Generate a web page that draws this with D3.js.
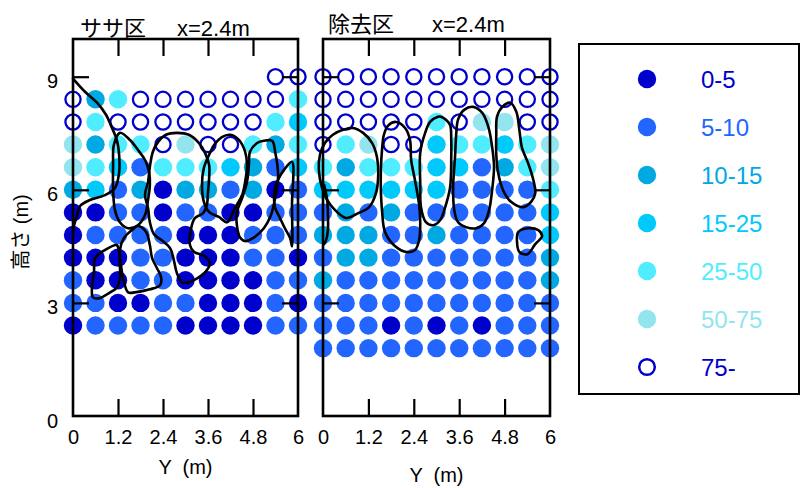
<!DOCTYPE html>
<html>
<head>
<meta charset="utf-8">
<script src="https://cdn.jsdelivr.net/npm/d3@7"></script>
<style>
  html, body { margin: 0; padding: 0; background: #fff; }
  svg { display: block; font-family: "Liberation Sans", Arial, "Noto Sans CJK JP", sans-serif; }
</style>
</head>
<body>
<svg id="chart" width="801" height="488"></svg>
<script>
// 相対照度のクラス (%) と色
const classLabels = ["0-5", "5-10", "10-15", "15-25", "25-50", "50-75", "75-"];
const classColors = ["#0000cc", "#2266ff", "#00a9e2", "#00c9fb", "#50ecff", "#92e5ee", "#0000cc"];
const OPEN = 6; // 75- は白抜き

// 測点の水平位置 Y (m)
const colPositions = [0, 0.6, 1.2, 1.8, 2.4, 3.0, 3.6, 4.2, 4.8, 5.4, 6.0];

// ササ区：高さ (m) ごとのクラス番号（null は測点なし）
const sasaHeights = [9.0, 8.4, 7.8, 7.2, 6.6, 6.0, 5.4, 4.8, 4.2, 3.6, 3.0, 2.4];
const sasaClasses = [
  [null, null, null, null, null, null, null, null, null, 6, 6],
  [6, 2, 4, 6, 6, 6, 6, 6, 6, 6, 4],
  [6, 4, 6, 6, 6, 6, 6, 6, 6, 4, 3],
  [5, 2, 4, 4, 6, 5, 6, 6, 4, 2, 4],
  [5, 4, 3, 1, 4, 4, 4, 3, 2, 1, 3],
  [2, 3, 1, 2, 0, 2, 2, 1, 2, 0, 1],
  [0, 0, 1, 1, 0, 1, 1, 0, 0, 1, 1],
  [0, 1, 1, 1, 1, 0, 0, 0, 1, 1, 1],
  [0, 0, 0, 1, 1, 0, 0, 0, 1, 1, 0],
  [1, 0, 0, 1, 1, 0, 0, 0, 0, 1, 1],
  [1, 1, 0, 0, 1, 1, 0, 0, 0, 1, 0],
  [0, 1, 1, 1, 1, 0, 0, 0, 0, 1, 1]
];

// 除去区
const jokyoHeights = [9.0, 8.4, 7.8, 7.2, 6.6, 6.0, 5.4, 4.8, 4.2, 3.6, 3.0, 2.4, 1.8];
const jokyoClasses = [
  [6, 6, 6, 6, 6, 6, 6, 6, 6, 6, 6],
  [6, 6, 6, 6, 6, 6, 6, 6, 6, 6, 6],
  [6, 6, 6, 6, 6, 4, 6, 5, 5, 6, 6],
  [6, 4, 5, 6, 6, 3, 4, 4, 3, 4, 5],
  [4, 2, 4, 4, 4, 3, 3, 1, 2, 4, 5],
  [3, 3, 3, 3, 3, 3, 1, 1, 1, 1, 4],
  [1, 2, 1, 2, 1, 1, 1, 1, 1, 1, 3],
  [2, 2, 2, 1, 1, 2, 1, 1, 1, 1, 3],
  [1, 2, 2, 1, 1, 1, 1, 1, 1, 1, 2],
  [2, 1, 1, 1, 1, 1, 1, 1, 1, 1, 2],
  [1, 1, 1, 1, 1, 1, 1, 1, 1, 1, 1],
  [1, 1, 1, 0, 1, 0, 1, 0, 1, 1, 1],
  [1, 1, 1, 1, 1, 1, 1, 1, 1, 1, 1]
];

// 樹冠の輪郭 [Y (m), 高さ (m)]
const sasaCrownLines = [
  [[0, 8.95], [0.32, 8.60], [0.64, 8.31], [0.88, 7.99], [1.04, 7.64], [1.17, 7.32], [1.23, 6.93], [1.23, 6.45],
   [1.12, 6.05], [0.85, 5.86], [0.45, 5.73], [0.19, 5.57], [0.11, 5.33], [0.03, 5.06], [0, 4.88]]
];
const sasaCrownLoops = [
  [[1.25, 7.51], [1.52, 7.32], [1.73, 7.06], [1.92, 6.79], [2.03, 6.47], [2.05, 6.13], [2.00, 5.73], [1.92, 5.33],
   [1.73, 5.06], [1.47, 4.98], [1.25, 5.14], [1.12, 5.46], [1.07, 5.99], [1.07, 6.66], [1.09, 7.19]],
  [[2.77, 7.51], [3.09, 7.46], [3.36, 7.24], [3.52, 6.98], [3.63, 6.66], [3.63, 6.31], [3.60, 5.94], [3.57, 5.60],
   [3.47, 5.38], [3.25, 5.25], [3.15, 4.98], [3.12, 4.53], [3.23, 4.35], [3.52, 4.24], [3.65, 4.03], [3.52, 3.81],
   [3.31, 3.65], [3.09, 3.55], [2.91, 3.55], [2.77, 3.79], [2.69, 4.13], [2.59, 4.45], [2.37, 4.66], [2.16, 4.82],
   [2.05, 5.14], [2.00, 5.52], [1.92, 5.86], [2.00, 6.21], [2.05, 6.61], [2.13, 7.01], [2.27, 7.27], [2.48, 7.46]],
  [[1.73, 5.04], [1.95, 4.88], [2.05, 4.53], [2.11, 4.19], [2.24, 3.92], [2.35, 3.68], [2.32, 3.47], [2.05, 3.36],
   [1.65, 3.28], [1.47, 3.28], [1.36, 3.55], [1.28, 4.00], [1.25, 4.40], [1.36, 4.72], [1.57, 4.93]],
  [[1.17, 4.53], [0.85, 4.40], [0.59, 4.19], [0.56, 3.81], [0.51, 3.47], [0.53, 3.15], [0.69, 3.12], [0.96, 3.26],
   [1.17, 3.41], [1.25, 3.65], [1.25, 4.00], [1.23, 4.35]],
  [[3.63, 6.93], [3.76, 7.19], [3.97, 7.40], [4.19, 7.46], [4.43, 7.32], [4.59, 7.01], [4.64, 6.66], [4.59, 6.21],
   [4.51, 5.86], [4.32, 5.52], [4.11, 5.14], [3.89, 5.28], [3.63, 5.41], [3.49, 5.68], [3.44, 6.13], [3.49, 6.58]],
  [[4.72, 7.01], [4.91, 7.24], [5.09, 7.30], [5.31, 7.30], [5.39, 7.01], [5.47, 6.39], [5.39, 5.78], [5.28, 5.33],
   [5.09, 4.98], [4.83, 4.74], [4.59, 4.64], [4.45, 4.74], [4.37, 5.06], [4.37, 5.41], [4.51, 5.78], [4.64, 6.21],
   [4.69, 6.66]],
  [[5.84, 6.74], [5.63, 6.53], [5.49, 6.31], [5.39, 6.05], [5.36, 5.78], [5.39, 5.52], [5.52, 5.25], [5.65, 4.98],
   [5.79, 4.72], [5.84, 4.50], [5.84, 5.60]]
];

const jokyoCrownLines = [
  [[0.03, 6.13], [0.11, 5.73], [0.13, 5.33], [0.13, 4.93], [0.08, 4.66], [0.03, 4.56]]
];
const jokyoCrownLoops = [
  [[0.79, 7.64], [0.53, 7.59], [0.26, 7.46], [0.05, 7.24], [-0.08, 6.93], [-0.11, 6.53], [-0.03, 6.07], [0.11, 5.73],
   [0.32, 5.46], [0.61, 5.25], [0.93, 5.38], [1.22, 5.54], [1.40, 5.91], [1.46, 6.39], [1.43, 6.85], [1.30, 7.24],
   [1.06, 7.51]],
  [[1.93, 7.80], [1.72, 7.70], [1.61, 7.46], [1.56, 7.06], [1.53, 6.53], [1.53, 5.99], [1.56, 5.46], [1.64, 4.88],
   [1.90, 4.51], [2.22, 4.35], [2.43, 4.40], [2.54, 4.66], [2.57, 5.12], [2.54, 5.60], [2.43, 6.26], [2.33, 6.79],
   [2.30, 7.32], [2.17, 7.64]],
  [[3.04, 7.94], [2.83, 7.80], [2.70, 7.51], [2.57, 6.98], [2.57, 6.18], [2.59, 5.54], [2.72, 5.14], [2.91, 5.06],
   [3.10, 5.20], [3.23, 5.54], [3.36, 6.07], [3.39, 6.87], [3.39, 7.32], [3.36, 7.72], [3.25, 7.86], [3.12, 7.94]],
  [[3.97, 8.20], [3.73, 8.12], [3.57, 7.86], [3.52, 7.46], [3.49, 6.87], [3.44, 6.07], [3.47, 5.46], [3.57, 5.14],
   [3.78, 5.01], [4.05, 4.98], [4.26, 5.12], [4.39, 5.46], [4.47, 5.99], [4.52, 6.61], [4.47, 7.14], [4.37, 7.67],
   [4.21, 8.04]],
  [[4.95, 8.31], [4.74, 8.20], [4.60, 7.94], [4.58, 7.46], [4.58, 6.93], [4.63, 6.45], [4.76, 5.99], [4.97, 5.68],
   [5.29, 5.54], [5.50, 5.68], [5.61, 5.91], [5.56, 6.26], [5.42, 6.71], [5.26, 7.11], [5.19, 7.59], [5.11, 8.07]],
  [[5.16, 4.88], [5.42, 4.98], [5.69, 4.93], [5.79, 4.77], [5.61, 4.56], [5.40, 4.29], [5.19, 4.35], [5.13, 4.59]]
];

// 軸の目盛り
const xTickValues = [0, 1.2, 2.4, 3.6, 4.8, 6];
const xInnerTicks = [1.2, 2.4, 3.6, 4.8];
const yTickValues = [0, 3, 6, 9];
const yInnerTicks = [3, 6, 9];

const panels = [
  { name: "ササ区", sub: "x=2.4m", heights: sasaHeights, classes: sasaClasses,
    lines: sasaCrownLines, loops: sasaCrownLoops, range: [73, 298], showY: true,
    title: [80, 177, 36], xlabelY: 474 },
  { name: "除去区", sub: "x=2.4m", heights: jokyoHeights, classes: jokyoClasses,
    lines: jokyoCrownLines, loops: jokyoCrownLoops, range: [323, 550], showY: false,
    title: [328, 432, 32], xlabelY: 482 }
];

const svg = d3.select("#chart");
svg.append("rect").attr("width", 801).attr("height", 488).attr("fill", "#fff");

const y = d3.scaleLinear().domain([0, 10]).range([416, 39]);
const fmtX = d => (d === 0 || d === 6) ? String(d) : d.toFixed(1);

panels.forEach(p => {
  const x = d3.scaleLinear().domain([0, 6]).range(p.range);
  const g = svg.append("g");

  // 測点
  const pts = [];
  p.heights.forEach((h, i) => {
    colPositions.forEach((c, j) => {
      const k = p.classes[i][j];
      if (k !== null && k !== undefined) pts.push({ y: c, h: h, k: k });
    });
  });
  g.append("g").selectAll("circle").data(pts).join("circle")
    .attr("cx", d => x(d.y))
    .attr("cy", d => y(d.h))
    .attr("r", d => d.k === OPEN ? 7.6 : 9.2)
    .attr("fill", d => d.k === OPEN ? "#fff" : classColors[d.k])
    .attr("stroke", d => d.k === OPEN ? classColors[OPEN] : "none")
    .attr("stroke-width", 2.3);

  // 樹冠輪郭
  const openLine = d3.line().x(d => x(d[0])).y(d => y(d[1])).curve(d3.curveCatmullRom.alpha(0.5));
  const loopLine = d3.line().x(d => x(d[0])).y(d => y(d[1])).curve(d3.curveCatmullRomClosed.alpha(0.5));
  const crown = g.append("g").attr("fill", "none").attr("stroke", "#000")
    .attr("stroke-width", 2.6).attr("stroke-linejoin", "round").attr("stroke-linecap", "round");
  crown.selectAll("path.loop").data(p.loops).join("path").attr("class", "loop").attr("d", loopLine);
  crown.selectAll("path.open").data(p.lines).join("path").attr("class", "open").attr("d", openLine);

  // 枠
  g.append("rect")
    .attr("x", x(0)).attr("y", y(10))
    .attr("width", x(6) - x(0)).attr("height", y(0) - y(10))
    .attr("fill", "none").attr("stroke", "#000").attr("stroke-width", 2.6);

  const styleAxis = sel => {
    sel.select(".domain").remove();
    sel.selectAll(".tick line").attr("stroke", "#000").attr("stroke-width", 2.2);
    sel.selectAll(".tick text").attr("fill", "#000").attr("font-size", 20)
      .attr("font-family", "'Liberation Sans', Arial, sans-serif");
  };

  // 下軸（ラベル）と内向き目盛り
  g.append("g").attr("transform", `translate(0,${y(0)})`)
    .call(d3.axisBottom(x).tickValues(xTickValues).tickFormat(fmtX).tickSizeInner(0).tickSizeOuter(0).tickPadding(14))
    .call(styleAxis);
  g.append("g").attr("transform", `translate(0,${y(0)})`)
    .call(d3.axisBottom(x).tickValues(xInnerTicks).tickFormat("").tickSizeInner(-17).tickSizeOuter(0))
    .call(styleAxis);
  g.append("g").attr("transform", `translate(0,${y(10)})`)
    .call(d3.axisTop(x).tickValues(xInnerTicks).tickFormat("").tickSizeInner(-17).tickSizeOuter(0))
    .call(styleAxis);

  // 左右の内向き目盛り
  g.append("g").attr("transform", `translate(${x(0)},0)`)
    .call(d3.axisLeft(y).tickValues(yInnerTicks).tickFormat("").tickSizeInner(-16).tickSizeOuter(0))
    .call(styleAxis);
  g.append("g").attr("transform", `translate(${x(6)},0)`)
    .call(d3.axisRight(y).tickValues(yInnerTicks).tickFormat("").tickSizeInner(-16).tickSizeOuter(0))
    .call(styleAxis);

  if (p.showY) {
    const ya = g.append("g").attr("transform", `translate(${x(0)},0)`)
      .call(d3.axisLeft(y).tickValues(yTickValues).tickSizeInner(0).tickSizeOuter(0).tickPadding(15))
      .call(styleAxis);
    ya.selectAll(".tick text").attr("dy", "0.55em");
    svg.append("text")
      .attr("transform", "translate(28,232) rotate(-90)")
      .attr("text-anchor", "middle")
      .attr("font-size", 20)
      .attr("fill", "#000")
      .text("高さ (m)");
  }

  // 区名
  svg.append("text").attr("x", p.title[0]).attr("y", p.title[2])
    .attr("font-size", 22).attr("fill", "#000").text(p.name);
  svg.append("text").attr("x", p.title[1]).attr("y", p.title[2])
    .attr("font-size", 22).attr("fill", "#000").text(p.sub);

  // 横軸名
  svg.append("text").attr("x", (x(0) + x(6)) / 2).attr("y", p.xlabelY)
    .attr("text-anchor", "middle").attr("font-size", 20).attr("fill", "#000")
    .attr("xml:space", "preserve").style("white-space", "pre")
    .text("Y  (m)");
});

// 凡例
const legend = svg.append("g");
legend.append("rect").attr("x", 579).attr("y", 44).attr("width", 220).attr("height", 350)
  .attr("fill", "#fff").attr("stroke", "#000").attr("stroke-width", 2);
const ly = d3.scalePoint().domain(classLabels).range([79, 367]);
const items = legend.selectAll("g.item").data(classLabels).join("g").attr("class", "item")
  .attr("transform", d => `translate(0,${ly(d)})`);
items.append("circle").attr("cx", 647).attr("cy", 0)
  .attr("r", (d, i) => i === OPEN ? 7.8 : 9.2)
  .attr("fill", (d, i) => i === OPEN ? "#fff" : classColors[i])
  .attr("stroke", (d, i) => i === OPEN ? classColors[i] : "none")
  .attr("stroke-width", 2.5);
items.append("text").attr("x", 701).attr("dy", "0.36em")
  .attr("font-size", 24).attr("fill", (d, i) => classColors[i]).text(d => d);
</script>
</body>
</html>
